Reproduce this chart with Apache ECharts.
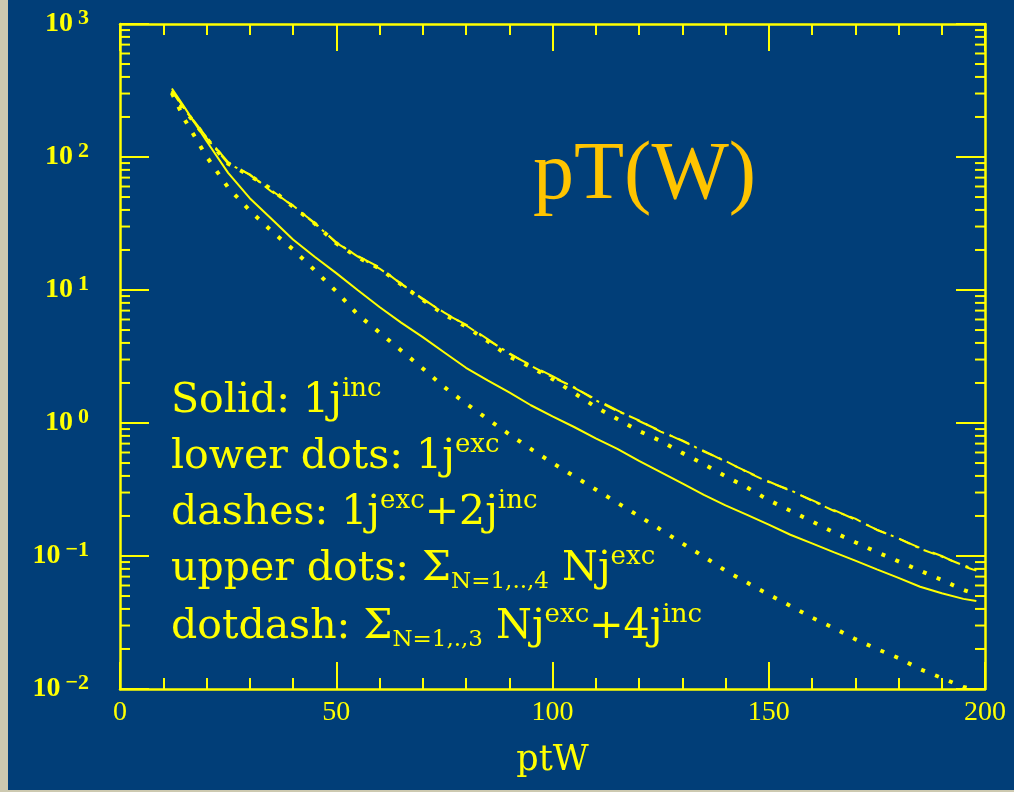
<!DOCTYPE html>
<html>
<head>
<meta charset="utf-8">
<script src="https://cdn.jsdelivr.net/npm/echarts@6/dist/echarts.min.js"></script>
<style>
  html, body { margin: 0; padding: 0; background: #013e78; }
  #chart { width: 1014px; height: 792px; }
</style>
</head>
<body>
<div id="chart"></div>
<script>
// pT of the W boson, events per bin (log scale) for several jet multiplicity selections
const ptW = [12, 15, 20, 25, 30, 35, 40, 45, 50, 55, 60, 65, 70, 75, 80, 85, 90, 95, 100,
  105, 110, 115, 120, 125, 130, 135, 140, 145, 150, 155, 160, 165, 170, 175, 180, 185, 190, 195, 198];

// Solid: 1j inclusive
const solid = [327, 234, 132, 76, 49, 34.3, 24, 17.8, 13.4, 9.95, 7.45, 5.69, 4.42, 3.39, 2.60,
  2.09, 1.70, 1.36, 1.12, 0.933, 0.767, 0.638, 0.519, 0.427, 0.351, 0.288, 0.240, 0.204, 0.172,
  0.1445, 0.1245, 0.107, 0.0923, 0.0794, 0.0684, 0.0587, 0.0525, 0.0476, 0.0459];

// lower dots: 1j exclusive
const lowerDots = [302, 190, 101, 58.9, 39.6, 27.8, 20.2, 14.1, 9.77, 6.53, 4.79, 3.51, 2.57,
  1.86, 1.40, 1.07, 0.822, 0.638, 0.501, 0.398, 0.316, 0.251, 0.1995, 0.158, 0.1245, 0.0989,
  0.0776, 0.0631, 0.0513, 0.0422, 0.0344, 0.0288, 0.0237, 0.0200, 0.0171, 0.0141, 0.0121,
  0.01035, 0.0098];

// dashes: 1j exc + 2j inc
const dashes = [316, 229, 141, 91.6, 73.3, 56.2, 42.7, 32.0, 22.6, 18.0, 14.8, 11.1, 8.61, 6.68,
  5.50, 4.27, 3.31, 2.72, 2.25, 1.84, 1.51, 1.245, 1.035, 0.871, 0.733, 0.617, 0.513, 0.431,
  0.363, 0.309, 0.263, 0.222, 0.188, 0.158, 0.135, 0.115, 0.100, 0.0836, 0.0776];

// upper dots: sum N=1..4 of Nj exclusive
const upperDots = [309, 224, 138, 89.1, 72.4, 57.5, 42.2, 31.6, 22.4, 17.6, 14.5, 11.0, 8.41,
  6.53, 5.31, 4.12, 3.16, 2.63, 2.14, 1.68, 1.32, 1.07, 0.871, 0.733, 0.596, 0.490, 0.398, 0.327,
  0.263, 0.219, 0.182, 0.151, 0.127, 0.107, 0.0912, 0.0776, 0.0661, 0.0556, 0.0513];

// dotdash: sum N=1..3 of Nj exclusive + 4j inclusive
const dotdash = [312, 226, 139, 89.1, 74.1, 55.0, 43.2, 31.6, 22.9, 17.8, 14.5, 11.2, 8.51,
  6.76, 5.43, 4.22, 3.35, 2.69, 2.21, 1.86, 1.48, 1.23, 1.047, 0.861, 0.741, 0.610, 0.519,
  0.427, 0.359, 0.313, 0.260, 0.219, 0.191, 0.157, 0.136, 0.1135, 0.0989, 0.0851, 0.0794];

// Axis ranges
const xMin = 0, xMax = 200, xStep = 50;
const yMin = 0.01, yMax = 1000;

// Annotation text
const titleText = 'pT(W)';
const axisTitle = 'ptW';
const legendLines = [
  '{m|Solid: 1j}{sup|inc}',
  '{m|lower dots: 1j}{sup|exc}',
  '{m|dashes: 1j}{sup|exc}{m|+2j}{sup|inc}',
  '{m|upper dots: Σ}{sub|N=1,..,4}{m| Nj}{sup|exc}',
  '{m|dotdash: Σ}{sub|N=1,.,3}{m| Nj}{sup|exc}{m|+4j}{sup|inc}'
];

const YEL = '#ffff00';
const BG = '#013e78';
const SERIF = '"DejaVu Serif", serif';
const TIMES = '"Liberation Serif", serif';

const pairs = (ys) => ptW.map((x, i) => [x, ys[i]]);

// Minor log ticks at 2..9 within each decade
const minorLogTicks = [];
for (let e = Math.round(Math.log10(yMin)); e < Math.round(Math.log10(yMax)); e++) {
  for (let m = 2; m <= 9; m++) minorLogTicks.push([0, m * Math.pow(10, e)]);
}

const chart = echarts.init(document.getElementById('chart'), null, { renderer: 'canvas' });

const axisLineStyle = { color: YEL, width: 2.5 };
const tickStyle = { color: YEL, width: 2 };

function logLabel(v) {
  const e = Math.round(Math.log10(v));
  const s = e < 0 ? '\u2212' + Math.abs(e) : String(e);
  return '{b|10}{e|' + s + '}';
}

const lineBase = { type: 'line', showSymbol: false, symbol: 'none', smooth: false, clip: true, z: 5 };

const option = {
  animation: false,
  backgroundColor: BG,
  grid: { left: 120, top: 24, width: 865, height: 665, containLabel: false, outerBoundsMode: 'none' },
  xAxis: [
    {
      type: 'value', min: xMin, max: xMax, interval: xStep, position: 'bottom',
      axisLine: { show: true, onZero: false, lineStyle: axisLineStyle },
      axisTick: { show: true, inside: true, length: 27, lineStyle: tickStyle },
      minorTick: { show: true, splitNumber: 5, length: 11, lineStyle: tickStyle },
      splitLine: { show: false },
      axisLabel: { color: YEL, fontFamily: TIMES, fontSize: 28, margin: 10 },
      name: axisTitle, nameLocation: 'middle', nameGap: 54,
      nameTextStyle: { color: YEL, fontFamily: SERIF, fontSize: 35 }
    },
    {
      type: 'value', min: xMin, max: xMax, interval: xStep, position: 'top',
      axisLine: { show: true, onZero: false, lineStyle: axisLineStyle },
      axisTick: { show: true, inside: true, length: 27, lineStyle: tickStyle },
      minorTick: { show: true, splitNumber: 5, length: 11, lineStyle: tickStyle },
      splitLine: { show: false },
      axisLabel: { show: false }
    }
  ],
  yAxis: [
    {
      type: 'log', logBase: 10, min: yMin, max: yMax, position: 'left',
      axisLine: { show: true, onZero: false, lineStyle: axisLineStyle },
      axisTick: { show: true, inside: true, length: 29, lineStyle: tickStyle },
      splitLine: { show: false },
      axisLabel: {
        margin: 31, formatter: logLabel,
        rich: {
          b: { color: YEL, fontFamily: TIMES, fontWeight: 'bold', fontSize: 28, lineHeight: 34 },
          e: { color: YEL, fontFamily: TIMES, fontWeight: 'bold', fontSize: 22, lineHeight: 15,
               verticalAlign: 'top', padding: [0, 0, 0, 5] }
        }
      }
    },
    {
      type: 'log', logBase: 10, min: yMin, max: yMax, position: 'right',
      axisLine: { show: true, onZero: false, lineStyle: axisLineStyle },
      axisTick: { show: true, inside: true, length: 29, lineStyle: tickStyle },
      splitLine: { show: false },
      axisLabel: { show: false }
    }
  ],
  series: [
    {
      // minor log ticks on the left and right frame
      type: 'custom', name: 'minor ticks', xAxisIndex: 0, yAxisIndex: 0, silent: true, clip: false, z: 3,
      data: minorLogTicks,
      renderItem: function (params, api) {
        const p = api.coord([0, api.value(1)]);
        const cs = params.coordSys;
        const L = 10;
        return {
          type: 'group',
          children: [
            { type: 'line', shape: { x1: cs.x, y1: p[1], x2: cs.x + L, y2: p[1] }, style: { stroke: YEL, lineWidth: 2 } },
            { type: 'line', shape: { x1: cs.x + cs.width - L, y1: p[1], x2: cs.x + cs.width, y2: p[1] }, style: { stroke: YEL, lineWidth: 2 } }
          ]
        };
      }
    },
    Object.assign({}, lineBase, { name: 'Solid', data: pairs(solid),
      lineStyle: { color: YEL, width: 2 } }),
    Object.assign({}, lineBase, { name: 'lower dots', data: pairs(lowerDots),
      lineStyle: { color: YEL, width: 4, type: [4, 11], cap: 'butt' } }),
    Object.assign({}, lineBase, { name: 'dashes', data: pairs(dashes),
      lineStyle: { color: YEL, width: 2, type: [22, 14], cap: 'butt' } }),
    Object.assign({}, lineBase, { name: 'upper dots', data: pairs(upperDots),
      lineStyle: { color: YEL, width: 4, type: [4, 11], cap: 'butt' } }),
    Object.assign({}, lineBase, { name: 'dotdash', data: pairs(dotdash),
      lineStyle: { color: YEL, width: 2, type: [12, 6, 3, 6], cap: 'butt' } })
  ],
  graphic: [
    { type: 'rect', left: 0, top: 0, shape: { width: 8, height: 792 }, style: { fill: '#cdc9b0' }, z: 100 },
    { type: 'rect', left: 0, top: 790, shape: { width: 1014, height: 2 }, style: { fill: '#cdc9b0' }, z: 100 },
    {
      type: 'text', x: 533, y: 176, z: 50,
      style: { text: titleText, fill: '#ffc400', fontFamily: TIMES, fontSize: 82, align: 'left', verticalAlign: 'middle' }
    }
  ].concat(legendLines.map((t, i) => ({
    type: 'text', x: 171, y: [376, 432, 488, 544, 602][i], z: 50,
    style: {
      text: t, align: 'left', verticalAlign: 'top',
      rich: {
        m: { fill: YEL, fontFamily: SERIF, fontSize: 41, lineHeight: 50 },
        sup: { fill: YEL, fontFamily: SERIF, fontSize: 26, lineHeight: 24, verticalAlign: 'top' },
        sub: { fill: YEL, fontFamily: SERIF, fontSize: 23, lineHeight: 22, verticalAlign: 'bottom' }
      }
    }
  })))
};

chart.setOption(option);
</script>
</body>
</html>
